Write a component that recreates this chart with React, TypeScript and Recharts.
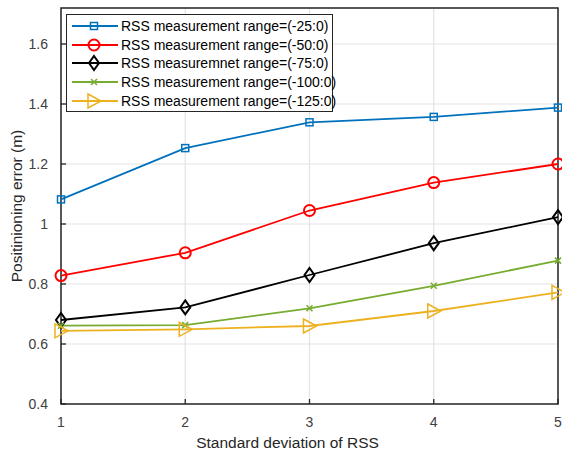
import { LineChart, Line, XAxis, YAxis, CartesianGrid, Legend, ReferenceArea } from 'recharts'

const stdDev = [1, 2, 3, 4, 5]
const range25 = [1.082, 1.253, 1.339, 1.357, 1.388]
const range50 = [0.828, 0.904, 1.045, 1.138, 1.2]
const range75 = [0.68, 0.722, 0.83, 0.936, 1.023]
const range100 = [0.661, 0.663, 0.719, 0.794, 0.878]
const range125 = [0.644, 0.649, 0.66, 0.71, 0.772]
const xTicks = [1, 2, 3, 4, 5]
const yTicks = [0.4, 0.6, 0.8, 1, 1.2, 1.4, 1.6]
const yTop = 1.72

const data = stdDev.map((x, i) => ({
  x,
  r25: range25[i],
  r50: range50[i],
  r75: range75[i],
  r100: range100[i],
  r125: range125[i],
}))

type Shape = 'square' | 'circle' | 'diamond' | 'cross' | 'triangle'

const series: { key: string; name: string; color: string; shape: Shape }[] = [
  { key: 'r25', name: 'RSS measurement range=(-25:0)', color: '#0072BD', shape: 'square' },
  { key: 'r50', name: 'RSS measurement range=(-50:0)', color: '#FF0000', shape: 'circle' },
  { key: 'r75', name: 'RSS measuremnet range=(-75:0)', color: '#000000', shape: 'diamond' },
  { key: 'r100', name: 'RSS measurement range=(-100:0)', color: '#77AC30', shape: 'cross' },
  { key: 'r125', name: 'RSS measurement range=(-125:0)', color: '#EDB120', shape: 'triangle' },
]

const font = '"Liberation Sans", Arial, sans-serif'
const axisColor = '#262626'
const tickLen = 5
const margin = 13

function Marker({ cx, cy, shape, color }: { cx: number; cy: number; shape: Shape; color: string }) {
  if (cx == null || cy == null) return null
  const common = { fill: 'none', stroke: color, strokeWidth: 1.5 }
  switch (shape) {
    case 'square':
      return <rect x={cx - 3.5} y={cy - 3.5} width={7} height={7} {...common} />
    case 'circle':
      return <circle cx={cx} cy={cy} r={5.5} {...common} strokeWidth={2} />
    case 'diamond':
      return <path d={`M${cx},${cy - 7}L${cx + 5},${cy}L${cx},${cy + 7}L${cx - 5},${cy}Z`} {...common} strokeWidth={2} />
    case 'cross':
      return <path d={`M${cx - 3},${cy - 3}L${cx + 3},${cy + 3}M${cx - 3},${cy + 3}L${cx + 3},${cy - 3}`} {...common} />
    case 'triangle':
      return <path d={`M${cx - 6},${cy - 7}L${cx + 7},${cy}L${cx - 6},${cy + 7}Z`} {...common} />
  }
}

// inward MATLAB-style ticks, with labels only on bottom/left
function BottomTick({ x, y, payload }: any) {
  const ay = y - margin
  return (
    <g>
      <line x1={x} y1={ay} x2={x} y2={ay - tickLen} stroke={axisColor} strokeWidth={1.3} />
      <text x={x} y={y} dy="0.71em" textAnchor="middle" fill="#404040" fontSize={14} fontFamily={font}>
        {payload.value}
      </text>
    </g>
  )
}

function LeftTick({ x, y, payload }: any) {
  const ax = x + margin
  return (
    <g>
      <line x1={ax} y1={y} x2={ax + tickLen} y2={y} stroke={axisColor} strokeWidth={1.3} />
      <text x={x} y={y} dy="0.355em" textAnchor="end" fill="#404040" fontSize={14} fontFamily={font}>
        {String(Number(Number(payload.value).toFixed(1)))}
      </text>
    </g>
  )
}

function TopTick({ x, y }: any) {
  const ay = y + margin
  return <line x1={x} y1={ay} x2={x} y2={ay + tickLen} stroke={axisColor} strokeWidth={1.3} />
}

function RightTick({ x, y }: any) {
  const ax = x - margin
  return <line x1={ax} y1={y} x2={ax - tickLen} y2={y} stroke={axisColor} strokeWidth={1.3} />
}

function LegendBox() {
  return (
    <div
      style={{
        width: 267,
        height: 98,
        boxSizing: 'border-box',
        border: `1.5px solid ${axisColor}`,
        background: '#fff',
        paddingTop: 1.5,
        fontFamily: font,
        fontSize: 14,
        color: '#000',
      }}
    >
      {series.map((s) => (
        <div key={s.key} style={{ display: 'flex', alignItems: 'center', height: 18.75 }}>
          <svg width={54} height={18} style={{ flex: 'none' }}>
            <line x1={5} y1={9} x2={51} y2={9} stroke={s.color} strokeWidth={1.8} />
            <Marker cx={27} cy={9} shape={s.shape} color={s.color} />
          </svg>
          <span style={{ whiteSpace: 'nowrap' }}>{s.name}</span>
        </div>
      ))}
    </div>
  )
}

export default function App() {
  return (
    <div style={{ position: 'absolute', left: 0, top: 0 }}>
      <LineChart width={562} height={452} data={data} margin={{ top: 8, right: 4, bottom: 0, left: 0 }}>
        <CartesianGrid stroke="#e3e3e3" strokeWidth={1.2} />
        <XAxis
          dataKey="x"
          type="number"
          domain={[1, 5]}
          ticks={xTicks}
          height={48}
          tickLine={false}
          tickSize={0}
          tickMargin={margin}
          axisLine={false}
          tick={<BottomTick />}
          label={{
            value: 'Standard deviation of RSS',
            position: 'insideBottom',
            offset: 4,
            dx: -22,
            style: { fill: '#262626', fontSize: 15.5, fontFamily: font },
          }}
        />
        <XAxis
          xAxisId="top"
          orientation="top"
          dataKey="x"
          type="number"
          domain={[1, 5]}
          ticks={xTicks}
          height={0}
          tickLine={false}
          tickSize={0}
          tickMargin={margin}
          axisLine={false}
          tick={<TopTick />}
        />
        <YAxis
          type="number"
          domain={[0.4, yTop]}
          ticks={yTicks}
          allowDataOverflow
          width={61}
          tickLine={false}
          tickSize={0}
          tickMargin={margin}
          axisLine={false}
          tick={<LeftTick />}
          label={{
            value: 'Positinioning error (m)',
            angle: -90,
            position: 'insideLeft',
            offset: 16,
            style: { textAnchor: 'middle', fill: '#262626', fontSize: 15.5, fontFamily: font },
          }}
        />
        <YAxis
          yAxisId="right"
          orientation="right"
          type="number"
          domain={[0.4, yTop]}
          ticks={yTicks}
          allowDataOverflow
          width={0}
          tickLine={false}
          tickSize={0}
          tickMargin={margin}
          axisLine={false}
          tick={<RightTick />}
        />
        <ReferenceArea x1={1} x2={5} y1={0.4} y2={yTop} fill="none" stroke={axisColor} strokeWidth={1.5} />
        {series.map((s) => (
          <Line
            key={s.key}
            dataKey={s.key}
            name={s.name}
            stroke={s.color}
            strokeWidth={1.8}
            isAnimationActive={false}
            dot={(p: any) => <Marker key={`${s.key}-${p.index}`} cx={p.cx} cy={p.cy} shape={s.shape} color={s.color} />}
          />
        ))}
        <Legend
          layout="vertical"
          align="center"
          verticalAlign="middle"
          content={() => <LegendBox />}
          wrapperStyle={{ position: 'absolute', left: 66, top: 14, width: 'auto', height: 'auto' }}
        />
      </LineChart>
    </div>
  )
}
